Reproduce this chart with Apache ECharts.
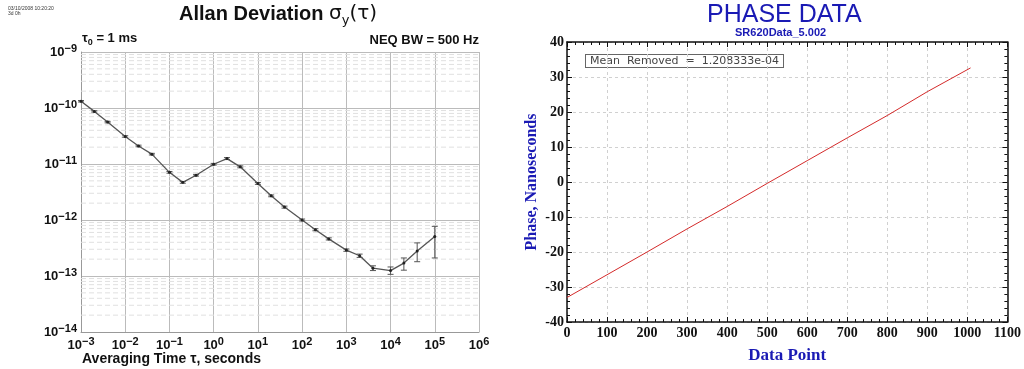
<!DOCTYPE html>
<html>
<head>
<meta charset="utf-8">
<script src="https://cdn.jsdelivr.net/npm/echarts@6/dist/echarts.min.js"></script>
<style>
  html, body { margin: 0; padding: 0; background: #fff; }
  #main { width: 1024px; height: 369px; }
</style>
</head>
<body>
<div id="main"></div>
<script>
// left panel: Allan deviation vs averaging time
const tau = [1e-3, 2e-3, 4e-3, 1e-2, 2e-2, 4e-2, 0.1, 0.2, 0.4, 1, 2, 4, 10, 20, 40,
  100, 200, 400, 1000, 2000, 4000, 1e4, 2e4, 4e4, 1e5];
const adev = [1.32e-10, 8.7e-11, 5.6e-11, 3.1e-11, 2.1e-11, 1.5e-11, 7.1e-12, 4.7e-12,
  6.3e-12, 9.9e-12, 1.25e-11, 8.9e-12, 4.5e-12, 2.7e-12, 1.7e-12, 1.0e-12, 6.7e-13,
  4.6e-13, 2.9e-13, 2.3e-13, 1.38e-13, 1.25e-13, 1.7e-13, 2.8e-13, 5.1e-13];
const adevLow = [1.28e-10, 8.45e-11, 5.43e-11, 3.0e-11, 2.03e-11, 1.45e-11, 6.85e-12,
  4.53e-12, 6.08e-12, 9.55e-12, 1.2e-11, 8.55e-12, 4.33e-12, 2.6e-12, 1.63e-12, 9.6e-13,
  6.42e-13, 4.4e-13, 2.76e-13, 2.15e-13, 1.25e-13, 1.07e-13, 1.27e-13, 1.8e-13, 2.1e-13];
const adevHigh = [1.36e-10, 8.95e-11, 5.77e-11, 3.2e-11, 2.17e-11, 1.55e-11, 7.35e-12,
  4.87e-12, 6.52e-12, 1.025e-11, 1.3e-11, 9.25e-12, 4.67e-12, 2.8e-12, 1.77e-12, 1.04e-12,
  6.98e-13, 4.8e-13, 3.04e-13, 2.46e-13, 1.52e-13, 1.45e-13, 2.1e-13, 3.9e-13, 7.7e-13];

// right panel: phase data (mean removed)
const pointIdx = [0, 100, 200, 300, 400, 500, 600, 700, 800, 900, 1008];
const phaseNs = [-33, -26.5, -20, -13.4, -7, -0.4, 6.1, 12.6, 19, 25.8, 32.6];

const chart = echarts.init(document.getElementById('main'));

const blue = '#1a1ab4';
const sans = 'Liberation Sans';
const serif = 'Liberation Serif';

function expLabel(v) {
  const e = Math.round(Math.log10(v));
  return '{b|10}{s|' + (e < 0 ? '\u2212' + (-e) : e) + '}';
}
const expRich = {
  b: { fontFamily: sans, fontWeight: 'bold', fontSize: 13, color: '#111', lineHeight: 18 },
  s: { fontFamily: sans, fontWeight: 'bold', fontSize: 11, color: '#111', lineHeight: 12, verticalAlign: 'top' }
};

// minor dashed grid lines 2..9 per decade
const minorY = [];
for (let e = -14; e < -9; e++) {
  for (let k = 2; k <= 9; k++) minorY.push(k * Math.pow(10, e));
}

const frameAxis = {
  axisLine: { show: true, onZero: false, lineStyle: { color: '#111', width: 1.5 } },
  axisTick: { inside: true, length: 5, lineStyle: { color: '#111' } },
  minorTick: { show: true, splitNumber: 5, length: 3, lineStyle: { color: '#111' } }
};

const option = {
  backgroundColor: '#fff',
  animation: false,
  grid: [
    { left: 81, top: 52, right: 545, bottom: 37 },
    { left: 567, top: 42, right: 14, bottom: 41 }
  ],
  xAxis: [
    {
      gridIndex: 0, type: 'log', logBase: 10, min: 1e-3, max: 1e6, interval: 1,
      axisLine: { onZero: false, lineStyle: { color: '#999', width: 1 } },
      axisTick: { show: false },
      axisLabel: { formatter: expLabel, rich: expRich, margin: 4 },
      splitLine: { show: true, lineStyle: { color: '#bbb', width: 1 } }
    },
    Object.assign({
      gridIndex: 1, type: 'value', min: 0, max: 1100, interval: 100,
      name: 'Data Point', nameLocation: 'middle', nameGap: 25,
      nameTextStyle: { fontFamily: serif, fontWeight: 'bold', fontSize: 17, color: blue },
      axisLabel: { fontFamily: serif, fontWeight: 'bold', fontSize: 14, color: '#111', margin: 4, formatter: v => String(v) },
      splitLine: { show: true, lineStyle: { color: '#d0d0d0', type: [3, 3] } }
    }, frameAxis),
    Object.assign({
      gridIndex: 1, type: 'value', min: 0, max: 1100, interval: 100, position: 'top',
      axisLabel: { show: false },
      splitLine: { show: false }
    }, frameAxis)
  ],
  yAxis: [
    {
      gridIndex: 0, type: 'log', logBase: 10, min: 1e-14, max: 1e-9, interval: 1,
      axisLine: { show: true, onZero: false, lineStyle: { color: '#999', width: 1 } },
      axisTick: { show: false },
      axisLabel: { formatter: expLabel, rich: expRich, margin: 4 },
      splitLine: { show: true, lineStyle: { color: '#bbb', width: 1 } }
    },
    Object.assign({
      gridIndex: 1, type: 'value', min: -40, max: 40, interval: 10,
      name: 'Phase, Nanoseconds', nameLocation: 'middle', nameGap: 27, nameRotate: 90,
      nameTextStyle: { fontFamily: serif, fontWeight: 'bold', fontSize: 16, color: blue },
      axisLabel: { fontFamily: serif, fontWeight: 'bold', fontSize: 14, color: '#111', margin: 3 },
      splitLine: { show: true, lineStyle: { color: '#d0d0d0', type: [3, 3] } }
    }, frameAxis),
    Object.assign({
      gridIndex: 1, type: 'value', min: -40, max: 40, interval: 10, position: 'right',
      axisLabel: { show: false },
      splitLine: { show: false }
    }, frameAxis)
  ],
  graphic: [
    { type: 'text', left: 8, top: 6, style: { text: '03/10/2008 10:20:20\n3d 0h', fontFamily: sans, fontSize: 5, lineHeight: 5, fill: '#333' } },
    {
      type: 'text', left: 179, top: 4,
      style: {
        text: '{t|Allan Deviation }{g|\u03c3}{u|y}{g|(\u03c4)}',
        rich: {
          t: { fontFamily: sans, fontWeight: 'bold', fontSize: 20, lineHeight: 26, fill: '#111' },
          g: { fontFamily: 'DejaVu Sans', fontSize: 20, lineHeight: 26, fill: '#111' },
          u: { fontFamily: 'DejaVu Sans', fontSize: 13, lineHeight: 12, verticalAlign: 'bottom', fill: '#111' }
        }
      }
    },
    {
      type: 'text', left: 82, top: 32,
      style: {
        text: '{t|\u03c4}{u|0}{t| = 1 ms}',
        rich: {
          t: { fontFamily: sans, fontWeight: 'bold', fontSize: 13, lineHeight: 18, fill: '#111' },
          u: { fontFamily: sans, fontWeight: 'bold', fontSize: 9, lineHeight: 9, verticalAlign: 'bottom', fill: '#111' }
        }
      }
    },
    { type: 'text', right: 545, top: 34, style: { text: 'NEQ BW = 500 Hz', fontFamily: sans, fontWeight: 'bold', fontSize: 13, fill: '#111' } },
    { type: 'text', left: 82, top: 352, style: { text: 'Averaging Time \u03c4, seconds', fontFamily: sans, fontWeight: 'bold', fontSize: 14, fill: '#111' } },
    { type: 'text', left: 707, top: 3, style: { text: 'PHASE DATA', fontFamily: sans, fontSize: 25, fill: blue } },
    { type: 'text', left: 735, top: 27, style: { text: 'SR620Data_5.002', fontFamily: sans, fontWeight: 'bold', fontSize: 11, fill: blue } },
    {
      type: 'text', left: 585, top: 54,
      style: {
        text: 'Mean  Removed  =  1.208333e-04', fontFamily: 'DejaVu Sans', fontSize: 11, fill: '#444',
        borderColor: '#666', borderWidth: 1, padding: [1, 4, 0, 4], backgroundColor: '#fff'
      }
    }
  ],
  series: [
    {
      // dashed minor grid lines across the left plot
      type: 'custom', xAxisIndex: 0, yAxisIndex: 0, z: 1, silent: true,
      data: minorY.map(v => [1e-3, v]),
      encode: { x: 0, y: 1 },
      renderItem(params, api) {
        const a = api.coord([1e-3, api.value(1)]);
        const b = api.coord([1e6, api.value(1)]);
        return {
          type: 'line',
          shape: { x1: a[0], y1: a[1], x2: b[0], y2: b[1] },
          style: { stroke: '#e0e0e0', lineWidth: 1, lineDash: [5, 3] }
        };
      }
    },
    {
      type: 'custom', xAxisIndex: 0, yAxisIndex: 0, z: 3,
      data: tau.map((t, i) => [t, adevLow[i], adevHigh[i]]),
      encode: { x: 0, y: [1, 2] },
      renderItem(params, api) {
        const lo = api.coord([api.value(0), api.value(1)]);
        const hi = api.coord([api.value(0), api.value(2)]);
        const w = 3;
        const style = { stroke: '#555', lineWidth: 1 };
        return {
          type: 'group',
          children: [
            { type: 'line', shape: { x1: lo[0], y1: lo[1], x2: hi[0], y2: hi[1] }, style },
            { type: 'line', shape: { x1: lo[0] - w, y1: lo[1], x2: lo[0] + w, y2: lo[1] }, style },
            { type: 'line', shape: { x1: hi[0] - w, y1: hi[1], x2: hi[0] + w, y2: hi[1] }, style }
          ]
        };
      }
    },
    {
      type: 'line', xAxisIndex: 0, yAxisIndex: 0, z: 4,
      data: tau.map((t, i) => [t, adev[i]]),
      symbol: 'circle', symbolSize: 3,
      itemStyle: { color: '#222' },
      lineStyle: { color: '#555', width: 1.3 }
    },
    {
      type: 'line', xAxisIndex: 1, yAxisIndex: 1,
      data: pointIdx.map((p, i) => [p, phaseNs[i]]),
      showSymbol: false,
      lineStyle: { color: '#d42a2a', width: 1 }
    }
  ]
};

chart.setOption(option);
</script>
</body>
</html>
